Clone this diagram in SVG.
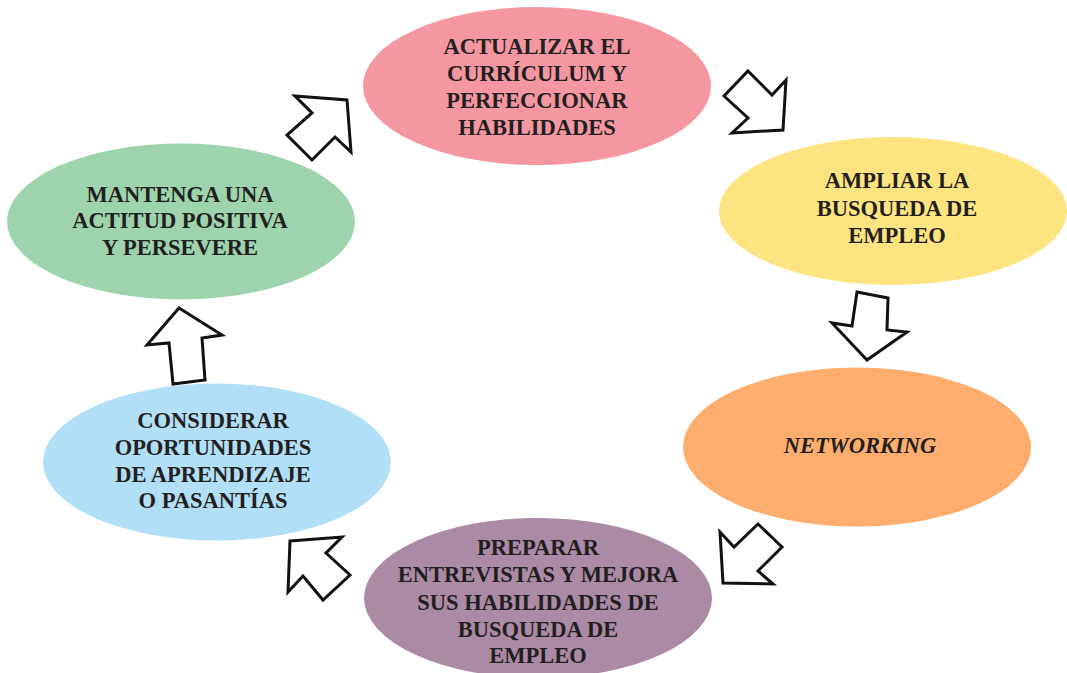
<svg xmlns="http://www.w3.org/2000/svg" width="1067" height="673" viewBox="0 0 1067 673">
<style>
.t{font-family:"Liberation Serif","Times New Roman",serif;font-weight:bold;font-size:22.5px;fill:#231f20;text-anchor:middle}
.a{fill:#fff;stroke:#111;stroke-width:3;stroke-linejoin:miter}
</style>
<rect width="1067" height="673" fill="#fff"/>
<g id="n1"><ellipse cx="537" cy="86" rx="174" ry="79" fill="#f497a0"/>
<text class="t" x="537"><tspan x="537" y="54">ACTUALIZAR EL</tspan><tspan x="537" y="81">CURRÍCULUM Y</tspan><tspan x="537" y="108">PERFECCIONAR</tspan><tspan x="537" y="135">HABILIDADES</tspan></text></g>
<g id="n2"><ellipse cx="893" cy="211" rx="174" ry="74" fill="#fee480"/>
<text class="t"><tspan x="897" y="188">AMPLIAR LA</tspan><tspan x="897" y="216">BUSQUEDA DE</tspan><tspan x="897" y="243">EMPLEO</tspan></text></g>
<g id="n3"><ellipse cx="857" cy="447" rx="174" ry="79.5" fill="#fdad6d"/>
<text class="t" x="860" y="453" font-style="italic">NETWORKING</text></g>
<g id="n4"><ellipse cx="538" cy="598" rx="174" ry="80" fill="#ab8aa5"/>
<text class="t"><tspan x="538" y="555">PREPARAR</tspan><tspan x="538" y="582">ENTREVISTAS Y MEJORA</tspan><tspan x="538" y="610">SUS HABILIDADES DE</tspan><tspan x="538" y="637">BUSQUEDA DE</tspan><tspan x="538" y="663">EMPLEO</tspan></text></g>
<g id="n5"><ellipse cx="217" cy="462" rx="174" ry="78.5" fill="#b1dff7"/>
<text class="t"><tspan x="213" y="428">CONSIDERAR</tspan><tspan x="213" y="455">OPORTUNIDADES</tspan><tspan x="213" y="482">DE APRENDIZAJE</tspan><tspan x="213" y="508">O PASANTÍAS</tspan></text></g>
<g id="n6"><ellipse cx="181" cy="221.5" rx="174" ry="78" fill="#9dd4ad"/>
<text class="t"><tspan x="180" y="202">MANTENGA UNA</tspan><tspan x="180" y="228">ACTITUD POSITIVA</tspan><tspan x="180" y="255">Y PERSEVERE</tspan></text></g>
<g id="connectors">
<polygon class="a" points="295,96 347,100 351,152 335,137 312,160 287,135 312,113"/>
<polygon class="a" points="748,71 772,95 786,80 783,130 732,133 748,118 724,96"/>
<polygon class="a" points="857,292 888,298 887,330 907,332 867,360 832,323 852,326"/>
<polygon class="a" points="758,524 782,547 758,571 773,584 723,583 720,532 734,547"/>
<polygon class="a" points="290,541 342,537 326,553 350,575 323,600 303,576 288,592"/>
<polygon class="a" points="179,308 222,335 202,338 205,380 173,384 169,343 147,345"/>
</g>
</svg>
